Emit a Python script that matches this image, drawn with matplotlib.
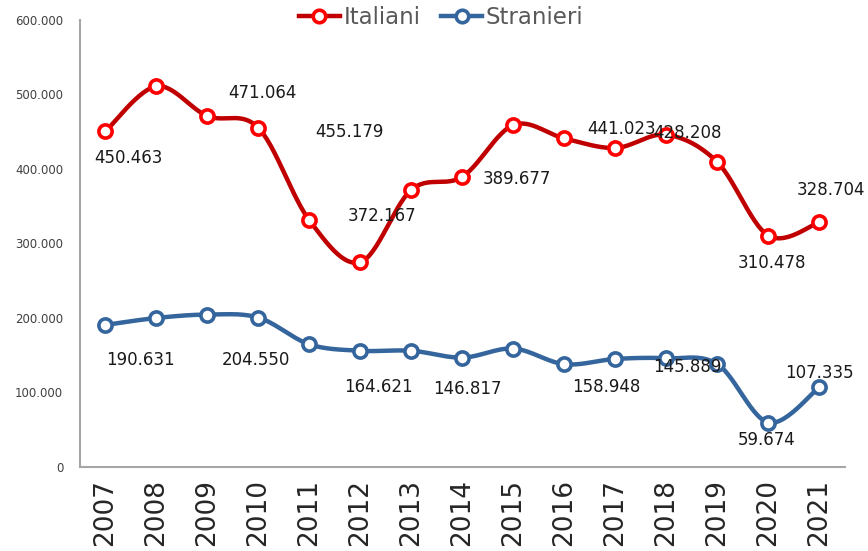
import numpy as np
import matplotlib.pyplot as plt

years = [str(y) for y in range(2007, 2022)]
italiani = [450463, 511000, 471064, 455179, 331000, 275000, 372167, 389677,
            459000, 441023, 428208, 446000, 409000, 310478, 328704]
stranieri = [190631, 200000, 204550, 200500, 164621, 156000, 156000, 146817,
             158948, 138000, 145000, 145889, 138000, 59674, 107335]

# which points carry a data label
ita_labelled = [0, 2, 3, 6, 7, 9, 10, 13, 14]
str_labelled = [0, 2, 4, 7, 8, 11, 13, 14]
# where the labels sit (x index, y value) - they are offset like in the original
ita_label_pos = [(0.45, 415000), (3.08, 502000), (4.78, 450000), (5.43, 337000),
                 (8.06, 387000), (10.12, 454000), (11.41, 448000), (13.06, 274000),
                 (14.22, 372000)]
str_label_pos = [(0.69, 144000), (2.96, 144000), (5.35, 107000), (7.1, 105000),
                 (9.82, 107000), (11.41, 134000), (12.96, 36000), (14.0, 126000)]


def smooth(xs, ys, n=30):
    # Excel style smoothed line (Catmull-Rom as cubic bezier)
    p = np.column_stack([xs, ys]).astype(float)
    p = np.vstack([p[0], p, p[-1]])
    out = []
    t = np.linspace(0, 1, n)[:, None]
    for i in range(1, len(p) - 2):
        p0, p3 = p[i], p[i + 1]
        c1 = p0 + (p[i + 1] - p[i - 1]) / 6
        c2 = p3 - (p[i + 2] - p[i]) / 6
        seg = ((1 - t) ** 3) * p0 + 3 * ((1 - t) ** 2) * t * c1 + 3 * (1 - t) * t ** 2 * c2 + t ** 3 * p3
        out.append(seg if i == 1 else seg[1:])
    out = np.vstack(out)
    return out[:, 0], out[:, 1]


def fmt(v):
    return f"{v:,}".replace(",", ".")


fig = plt.figure(figsize=(8.68, 5.51), dpi=100)
ax = fig.add_axes([0.092, 0.1525, 0.8815, 0.8112])

x = np.arange(len(years))
series = [
    ("Italiani", italiani, "#C00000", "#FF0000", ita_labelled, ita_label_pos),
    ("Stranieri", stranieri, "#34659C", "#34659C", str_labelled, str_label_pos),
]
for name, vals, lc, mc, labelled, pos in series:
    sx, sy = smooth(x, vals)
    ax.plot(sx, sy, color=lc, lw=3.2, solid_capstyle="round", zorder=2)
    ax.plot(x, vals, ls="none", marker="o", ms=9.5, mfc="white", mec=mc, mew=2.6, zorder=3)
    # legend proxy
    ax.plot([], [], color=lc, lw=3.2, marker="o", ms=9, mfc="white", mec=mc, mew=2.6, label=name)
    for i, (px, py) in zip(labelled, pos):
        ax.text(px, py, fmt(vals[i]), ha="center", va="center", fontsize=12, color="#1a1a1a", zorder=4)

ax.set_xlim(-0.5, len(years) - 0.5)
ax.set_ylim(0, 600000)
ax.set_yticks(range(0, 600001, 100000))
ax.set_yticklabels([fmt(v) for v in range(0, 600001, 100000)], fontsize=8.5, color="#404040")
ax.set_xticks(x)
ax.set_xticklabels(years, rotation=90, fontsize=19, color="#262626")
ax.tick_params(axis="both", length=0)
ax.tick_params(axis="y", pad=12)
ax.tick_params(axis="x", pad=9)
for s in ["top", "right"]:
    ax.spines[s].set_visible(False)
for s in ["left", "bottom"]:
    ax.spines[s].set_color("#a6a6a6")
    ax.spines[s].set_linewidth(1.5)

fig.legend(loc="center", bbox_to_anchor=(0.508, 0.968), ncol=2, frameon=False,
           fontsize=16.5, labelcolor="#595959", handlelength=1.8, handletextpad=0.15,
           columnspacing=0.9)

fig.savefig("out.png", dpi=100)
